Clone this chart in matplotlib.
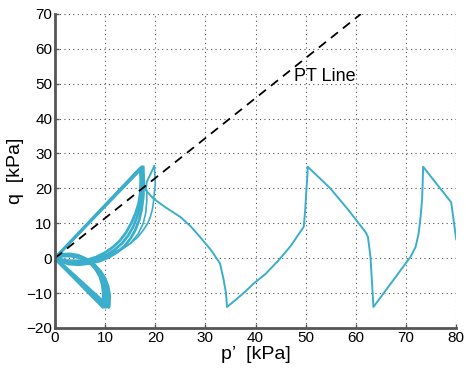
import matplotlib
matplotlib.use("Agg")
import matplotlib.pyplot as plt

plt.rcParams['font.family'] = ['Liberation Sans', 'DejaVu Sans']

# phase transformation line (q = M p')
pt_p = [0, 61.0]
pt_q = [0, 70.0]

# cyclic loops near the origin (many cycles overlap -> drawn a few times)
pos_loops_p = [
    [0, 17.3, 17.4, 17.3, 17.0, 16.4, 15.6, 14.6, 13.4, 12.0, 10.4, 8.6, 6.6, 4.5, 2.5, 1.0, 0],
    [0, 17.6, 17.7, 17.6, 17.3, 16.8, 16.0, 15.0, 13.8, 12.4, 10.8, 9.0, 7.0, 4.8, 2.7, 1.1, 0],
    [0, 17.0, 17.1, 17.0, 16.7, 16.1, 15.2, 14.2, 13.0, 11.6, 10.0, 8.2, 6.2, 4.2, 2.3, 0.9, 0],
]
pos_loops_q = [
    [0, 26.2, 22.0, 18.0, 15.0, 12.0, 9.0, 6.5, 4.3, 2.5, 1.0, -0.2, -1.0, -1.4, -1.3, -0.7, 0],
    [0, 26.2, 21.5, 17.5, 14.2, 11.0, 8.0, 5.5, 3.4, 1.7, 0.3, -0.8, -1.5, -1.9, -1.7, -0.9, 0],
    [0, 25.8, 22.5, 18.6, 15.8, 13.0, 10.0, 7.4, 5.1, 3.2, 1.6, 0.3, -0.6, -1.0, -1.0, -0.5, 0],
]
neg_loops_p = [
    [0, 9.6, 9.7, 9.7, 9.5, 9.0, 8.2, 7.2, 6.0, 4.6, 3.0, 1.5, 0],
    [0, 10.1, 10.2, 10.2, 10.0, 9.5, 8.6, 7.6, 6.3, 4.8, 3.1, 1.5, 0],
    [0, 10.7, 10.8, 10.8, 10.5, 9.9, 9.0, 7.9, 6.6, 5.0, 3.2, 1.6, 0],
]
neg_loops_q = [
    [0, -14.0, -12.0, -10.0, -7.5, -5.2, -3.2, -1.5, -0.2, 0.7, 1.1, 1.0, 0],
    [0, -14.0, -12.0, -10.2, -7.8, -5.5, -3.5, -1.8, -0.5, 0.5, 0.9, 0.9, 0],
    [0, -14.0, -12.2, -10.5, -8.1, -5.8, -3.8, -2.1, -0.8, 0.2, 0.7, 0.7, 0],
]

# thin unloading curves back to the origin
outer_p = [0, 2.5, 5.6, 8.5, 11.0, 13.2, 15.0, 16.5, 17.6, 18.5, 19.0, 19.4, 19.6, 19.8, 20.0, 19.9, 19.8]
outer_q = [0, -0.6, -0.6, 0.2, 1.3, 2.6, 4.2, 6.0, 8.0, 10.0, 11.8, 13.8, 15.7, 18.5, 21.5, 24.0, 26.4]
inner_p = [0, 4.0, 7.5, 10.5, 13.0, 15.0, 16.6, 17.6, 18.1, 18.3, 18.3]
inner_q = [0, -1.0, -0.8, 0.5, 2.2, 4.2, 7.0, 10.0, 13.0, 16.5, 19.5]

# main stress path (from first cycles at high p')
path_p = [19.8, 18.3, 18.1, 19.6, 22.0, 25.0, 27.0, 28.9, 31.0, 32.9, 33.6, 34.1, 34.3,
          36.0, 38.0, 39.6, 42.0, 44.6, 47.0, 49.6, 49.9, 50.1, 50.3, 50.4,
          54.9, 58.5, 61.9, 62.4, 62.9, 63.3, 63.5,
          67.0, 70.9, 71.9, 72.5, 72.9, 73.2, 73.3, 73.4, 76.8, 79.0, 80.0]
path_q = [26.4, 21.9, 19.5, 17.1, 14.6, 11.8, 9.2, 6.1, 2.5, -1.5, -6.0, -10.1, -14.0,
          -12.0, -9.5, -7.3, -4.5, -0.6, 3.5, 9.0, 14.0, 19.0, 23.0, 26.2,
          20.0, 13.8, 7.5, 6.1, 0.4, -9.2, -14.0,
          -7.2, 0.4, 3.2, 7.0, 11.9, 17.0, 21.0, 26.2, 20.0, 16.0, 5.4]

xticks = list(range(0, 81, 10))
yticks = list(range(-20, 71, 10))

col = "#3aaecb"

fig = plt.figure(figsize=(4.66, 3.68), dpi=100)
ax = fig.add_axes([0.118, 0.109, 0.861, 0.853])

for p, q in zip(pos_loops_p, pos_loops_q):
    ax.plot(p, q, color=col, lw=2.0)
for p, q in zip(neg_loops_p, neg_loops_q):
    ax.plot(p, q, color=col, lw=2.6)
ax.plot(outer_p, outer_q, color=col, lw=1.2)
ax.plot(inner_p, inner_q, color=col, lw=1.2)
ax.plot(path_p, path_q, color=col, lw=1.4)

ax.plot(pt_p, pt_q, color="black", lw=1.3, ls=(0, (5, 3.5)))
ax.text(47.7, 50.8, "PT Line", fontsize=13, va="baseline", ha="left")

ax.set_xlim(0, 80)
ax.set_ylim(-20, 70)
ax.set_xticks(xticks)
ax.set_yticks(yticks)
ax.grid(True, ls=(0, (1, 3)), color="#555555", lw=0.8)
ax.spines["top"].set_visible(False)
ax.spines["right"].set_visible(False)
for s in ["left", "bottom"]:
    ax.spines[s].set_color("#555555")
    ax.spines[s].set_linewidth(2)
ax.tick_params(direction="in", length=3, width=1, color="#555555", labelsize=11, pad=2)

ax.set_xlabel("p\u2019  [kPa]", fontsize=14, labelpad=1)
ax.set_ylabel("q  [kPa]", fontsize=14, labelpad=2)

fig.savefig("out.png", dpi=100)
